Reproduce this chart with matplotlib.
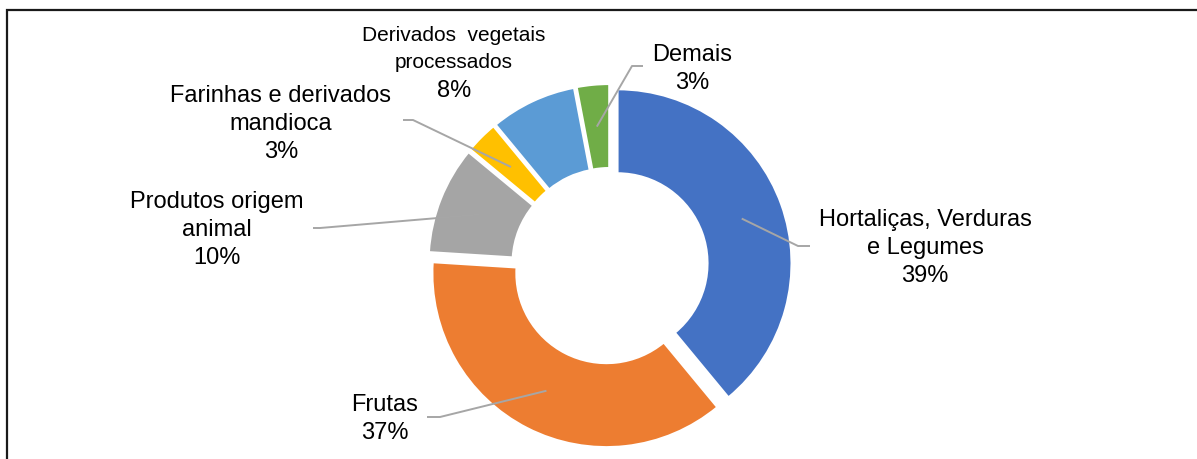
import matplotlib.pyplot as plt
import numpy as np

plt.rcParams['font.family'] = ['Liberation Sans', 'DejaVu Sans']

W, H = 1197, 459

categories = ['Hortaliças, Verduras\ne Legumes', 'Frutas', 'Produtos origem\nanimal',
              'Farinhas e derivados\nmandioca', 'Derivados  vegetais\nprocessados', 'Demais']
shares = [39, 37, 10, 3, 8, 3]
colors = ['#4472C4', '#ED7D31', '#A5A5A5', '#FFC000', '#5B9BD5', '#70AD47']

# label placement in pixels from the top-left corner
label_xy = [(925, 248), (385, 419), (217, 230), (281, 124), (454, 49), (692, 69)]
label_size = [17, 17, 17, 17, 15, 17]
label_spacing = [1.35, 1.35, 1.35, 1.35, 1.5, 1.35]
# percentage drawn on its own line only where the name uses a smaller font
pct_xy = [None, None, None, None, (454, 91), None]
# leader line: elbow point and outer end (None = no leader line)
elbows = [(798, 246), (440, 417), (320, 228), (413, 120), None, (632, 66)]
ends = [(810, 246), (427, 417), (313, 228), (403, 120), None, (643, 66)]

fig = plt.figure(figsize=(W / 100, H / 100), dpi=100)
ax = fig.add_axes([0, 0, 1, 1])

radius = 174
ring = 84
wedges, _ = ax.pie(shares, colors=colors, startangle=90, counterclock=False,
                   center=(610, H - 266), radius=radius, explode=[8] * len(shares),
                   wedgeprops=dict(width=ring, edgecolor='white', linewidth=1.5))

ax.set_xlim(0, W)
ax.set_ylim(0, H)
ax.set_aspect('auto')
ax.axis('off')

for i, (w, lab, val) in enumerate(zip(wedges, categories, shares)):
    x, y = label_xy[i]
    if pct_xy[i] is None:
        txt = f'{lab}\n{val}%'
    else:
        txt = lab
        ax.text(pct_xy[i][0], H - pct_xy[i][1], f'{val}%', ha='center', va='center',
                fontsize=17, color='black')
    ax.text(x, H - y, txt, ha='center', va='center',
            fontsize=label_size[i], linespacing=label_spacing[i], color='black')
    if elbows[i] is None:
        continue
    # leader line starts in the middle of the ring
    mid = np.deg2rad((w.theta1 + w.theta2) / 2)
    rr = w.r - ring / 2
    ax0 = w.center[0] + rr * np.cos(mid)
    ay0 = w.center[1] + rr * np.sin(mid)
    ax.plot([ax0, elbows[i][0], ends[i][0]], [ay0, H - elbows[i][1], H - ends[i][1]],
            color='#A6A6A6', lw=1.4, solid_capstyle='butt')

# chart border (only top and left edges are inside the picture)
ax.plot([7, 7, W + 5], [-5, H - 10, H - 10], color='#1a1a1a', lw=1.6,
        solid_joinstyle='miter', clip_on=False)

fig.savefig('out.png', dpi=100)
